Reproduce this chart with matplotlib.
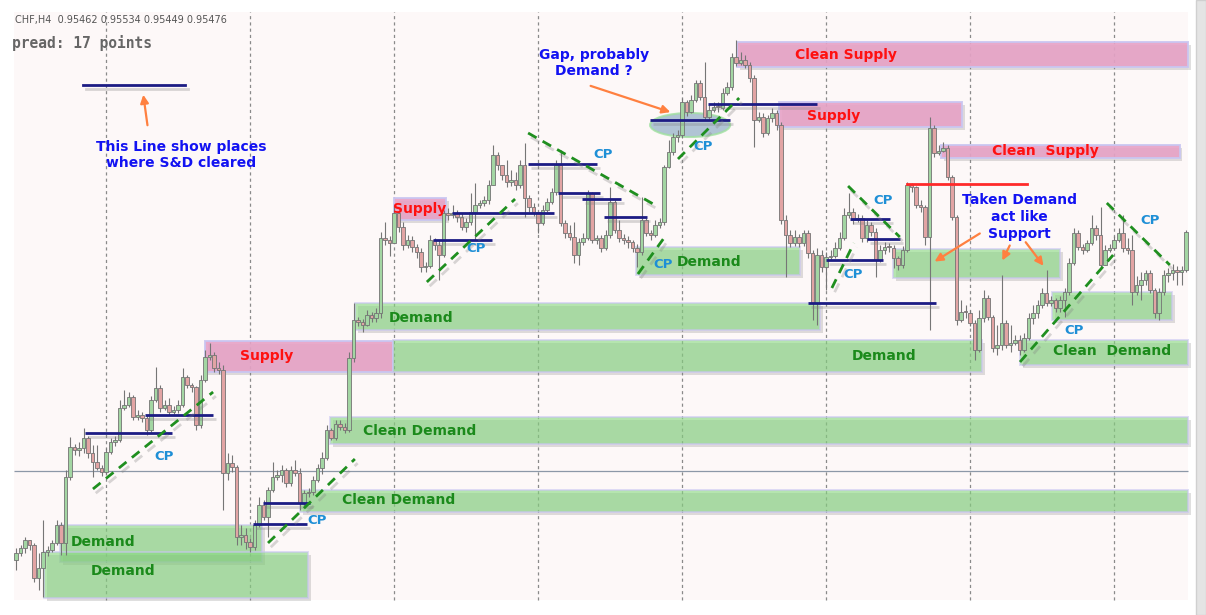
import matplotlib
matplotlib.use("Agg")
import matplotlib.pyplot as plt
import matplotlib.patheffects as pe
from matplotlib.patches import Rectangle, Ellipse
import numpy as np

# H4 candles, price in chart points (no axis labels visible on the screenshot)
first_open = 40
close = [47, 52, 60, 55, 22, 32, 48, 50, 57, 75, 57, 123, 153, 150, 152, 162, 147, 138, 132, 128,
         148, 158, 160, 192, 195, 203, 183, 185, 182, 170, 200, 212, 192, 195, 188, 190, 195, 223, 215, 213,
         175, 220, 243, 245, 232, 230, 127, 137, 133, 63, 65, 58, 53, 75, 95, 83, 110, 123, 125, 130,
         117, 130, 127, 97, 107, 108, 120, 132, 142, 170, 162, 176, 173, 170, 242, 280, 278, 275, 285, 282,
         287, 362, 360, 357, 387, 373, 355, 360, 353, 348, 333, 334, 360, 355, 345, 387, 385, 387, 383, 373,
         378, 388, 395, 397, 400, 415, 445, 435, 425, 418, 420, 415, 435, 402, 393, 388, 377, 390, 398, 408,
         435, 377, 367, 363, 345, 358, 362, 407, 360, 362, 352, 365, 398, 370, 362, 360, 358, 352, 348, 380,
         367, 365, 375, 378, 433, 448, 463, 465, 498, 488, 500, 517, 503, 483, 490, 493, 492, 507, 513, 543,
         537, 540, 535, 522, 480, 483, 467, 482, 487, 475, 380, 365, 357, 363, 357, 367, 347, 297, 345, 333,
         343, 344, 352, 362, 385, 388, 380, 382, 362, 375, 368, 340, 350, 353, 352, 342, 335, 350, 415, 413,
         395, 393, 363, 472, 447, 449, 452, 423, 383, 280, 288, 287, 277, 250, 282, 302, 283, 252, 255, 277,
         255, 257, 260, 250, 262, 282, 287, 295, 307, 297, 300, 292, 300, 308, 337, 367, 353, 350, 357, 372,
         365, 335, 350, 352, 360, 367, 352, 350, 308, 315, 320, 327, 310, 287, 308, 325, 327, 330, 328, 330,
         368]
high = [52, 55, 63, 60, 57, 47, 80, 54, 60, 80, 78, 130, 163, 156, 158, 172, 164, 155, 155, 135,
        152, 162, 164, 200, 210, 208, 205, 190, 188, 185, 204, 233, 215, 200, 202, 194, 200, 232, 225, 217,
        214, 225, 250, 257, 248, 238, 235, 147, 145, 135, 75, 72, 62, 80, 103, 100, 113, 138, 130, 135,
        132, 134, 140, 132, 110, 112, 124, 136, 148, 175, 172, 180, 180, 177, 248, 297, 283, 281, 290, 288,
        292, 368, 378, 364, 395, 388, 378, 365, 364, 356, 352, 338, 365, 362, 360, 390, 392, 395, 390, 387,
        382, 407, 417, 400, 404, 420, 455, 448, 432, 440, 430, 428, 440, 457, 405, 397, 388, 395, 402, 412,
        440, 450, 380, 375, 378, 362, 367, 410, 408, 365, 365, 370, 413, 400, 380, 366, 364, 360, 356, 403,
        382, 370, 380, 382, 435, 460, 467, 470, 502, 500, 505, 520, 520, 538, 495, 498, 498, 512, 518, 547,
        560, 548, 545, 538, 525, 488, 487, 485, 492, 490, 478, 385, 370, 370, 366, 370, 370, 350, 352, 350,
        348, 350, 358, 368, 392, 407, 392, 386, 385, 380, 378, 372, 355, 358, 357, 355, 344, 354, 418, 417,
        414, 400, 395, 483, 475, 455, 458, 455, 425, 385, 300, 295, 290, 280, 290, 310, 305, 285, 275, 325,
        280, 275, 265, 265, 267, 287, 295, 300, 312, 330, 304, 302, 304, 312, 342, 372, 370, 356, 360, 385,
        375, 393, 355, 356, 364, 372, 385, 362, 365, 324, 328, 330, 330, 312, 312, 330, 332, 336, 334, 334,
        370]
low = [30, 44, 47, 50, 18, 10, 3, 44, 48, 55, 45, 45, 120, 145, 144, 147, 142, 123, 130, 124,
       126, 146, 154, 158, 190, 193, 180, 180, 178, 165, 168, 198, 188, 190, 185, 186, 187, 193, 212, 208,
       170, 172, 218, 240, 228, 226, 90, 120, 128, 55, 55, 51, 48, 50, 73, 80, 63, 108, 120, 118,
       113, 114, 124, 90, 94, 103, 105, 118, 126, 140, 160, 160, 170, 167, 168, 238, 274, 268, 274, 278,
       278, 282, 355, 344, 360, 368, 350, 352, 348, 342, 328, 328, 332, 350, 320, 343, 380, 382, 378, 370,
       368, 375, 360, 392, 394, 396, 415, 430, 420, 413, 414, 410, 412, 383, 388, 384, 367, 375, 388, 396,
       405, 374, 362, 360, 337, 335, 355, 360, 357, 356, 348, 350, 362, 367, 358, 356, 352, 348, 333, 345,
       364, 360, 363, 372, 375, 432, 445, 458, 462, 484, 487, 498, 500, 480, 480, 488, 488, 490, 505, 510,
       534, 535, 532, 518, 453, 478, 463, 465, 478, 470, 376, 323, 353, 354, 353, 354, 342, 280, 275, 328,
       310, 340, 342, 350, 360, 382, 376, 378, 358, 358, 364, 323, 338, 346, 348, 332, 330, 332, 348, 408,
       392, 388, 355, 270, 443, 445, 448, 420, 380, 275, 278, 282, 274, 240, 248, 278, 280, 248, 245, 250,
       252, 248, 255, 245, 248, 260, 276, 282, 292, 294, 294, 288, 288, 283, 305, 335, 350, 346, 348, 355,
       360, 332, 344, 348, 350, 358, 348, 346, 295, 305, 300, 315, 307, 282, 280, 305, 318, 320, 315, 315,
       328]

# supply / demand zones: first candle, last candle, bottom, top
zone_names = ["Clean Supply", "Supply", "Clean  Supply", "Supply", "Supply",
              "Demand", "Demand", "Clean Demand", "Clean Demand", "Demand", "Demand",
              "Demand", "", "", "Clean  Demand"]
zone_kind = ["s", "s", "s", "s", "s", "d", "d", "d", "d", "d", "d", "d", "d", "d", "d"]
zone_start = [160.2, 169.5, 205.5, 42.0, 84.0, 75.3, 83.8, 69.8, 63.1, 9.8, 6.2, 137.8, 194.9, 230.2, 223.1]
zone_end = [260.4, 210.2, 258.6, 83.8, 95.6, 178.7, 214.7, 260.4, 260.4, 54.7, 64.9, 174.2, 232.0, 256.9, 260.4]
zone_low = [533, 473, 442, 228, 380, 270, 228, 156, 88, 38, 2, 325, 322, 280, 235]
zone_high = [558, 498, 455, 259, 402, 297, 260, 183, 110, 75, 48, 353, 351, 308, 260]

# levels where supply/demand got cleared: first candle, last candle, price
clear_start = [15.3, 28.7, 54.9, 52.7, 92.7, 96.9, 113.8, 120.4, 125.8, 130.7, 140.9, 153.8, 185.3, 189.1, 180.0, 176.0]
clear_end = [34.7, 43.8, 65.3, 64.7, 105.8, 119.6, 129.1, 129.8, 134.4, 140.2, 158.7, 178.0, 194.2, 196.4, 192.7, 204.4]
clear_level = [167, 185, 97, 76, 360, 387, 436, 407, 401, 383, 480, 496, 381, 361, 340, 297]

# trend lines (CP): start candle, start price, end candle, end price
trend_x0 = [17.1, 56.0, 91.3, 113.8, 138.2, 147.1, 181.3, 184.9, 223.1, 242.4]
trend_y0 = [111, 57, 318, 467, 326, 441, 312, 414, 238, 397]
trend_x1 = [43.8, 75.3, 110.9, 142.0, 144.0, 160.7, 186.2, 196.4, 243.8, 256.4]
trend_y1 = [208, 141, 401, 395, 362, 502, 357, 363, 345, 335]

cp_x = [32.9, 66.9, 102.2, 130.4, 143.8, 152.7, 186.0, 192.7, 235.1, 252.0]
cp_y = [143, 79, 351, 445, 336, 454, 325, 399, 269, 379]

separators = [20, 52, 84, 116, 148, 180, 212, 244]

o = np.array([first_open] + close[:-1], dtype=float)
c = np.array(close, dtype=float)
h = np.maximum(np.array(high, dtype=float), np.maximum(o, c))
l = np.minimum(np.array(low, dtype=float), np.minimum(o, c))
x = np.arange(len(c))

fig = plt.figure(figsize=(12.06, 6.15), dpi=100)
fig.patch.set_facecolor("white")
ax = fig.add_axes([0, 0, 1, 1])
ax.set_xlim(-3.556, 264.44)
ax.set_ylim(-15, 600)
ax.axis("off")

# chart background and right-hand panel
ax.add_patch(Rectangle((-0.44, 0), 260.9, 588, facecolor="#fdf8f8", edgecolor="none", zorder=0))
fig.patches.append(Rectangle((1196 / 1206, 0), 10 / 1206, 1, transform=fig.transFigure,
                             facecolor="#e4e4e4", edgecolor="#d0d0d0", zorder=0))

for s in separators:
    ax.vlines(s, 0, 588, colors="#8a8a8a", linestyles=(0, (2.5, 2.5)), linewidth=0.9, zorder=1)
ax.hlines(129, -0.44, 260.4, colors="#8c98a8", linewidth=0.9, zorder=1)

shadow = [pe.SimplePatchShadow(offset=(2, -2), shadow_rgbFace="gray", alpha=0.25), pe.Normal()]
for k in range(len(zone_names)):
    face = "#e6a2c6" if zone_kind[k] == "s" else "#86d97f"
    alpha = 0.9 if zone_kind[k] == "s" else 0.6
    r = Rectangle((zone_start[k], zone_low[k]), zone_end[k] - zone_start[k], zone_high[k] - zone_low[k],
                  facecolor=face, edgecolor="#c9c6f2", linewidth=1.4, alpha=alpha, zorder=2)
    r.set_path_effects(shadow)
    ax.add_patch(r)

# gap highlight
gap = Ellipse((149.8, 475), 17.8, 24, facecolor="#9db8cc", edgecolor="#9fe09f", linewidth=1.5, alpha=0.8, zorder=2)
ax.add_patch(gap)

# candles
bull = c >= o
ax.vlines(x, l, h, colors="#767676", linewidth=0.8, zorder=3)
body = np.where(np.abs(c - o) < 1.2, 1.2, c - o)
ax.bar(x, body, bottom=o, width=0.72, color=np.where(bull, "#a3d6a3", "#e2a4a4"),
       edgecolor="#737373", linewidth=0.6, zorder=4)

line_fx = [pe.SimpleLineShadow(offset=(2, -3), shadow_color="gray", alpha=0.3), pe.Normal()]
for k in range(len(clear_level)):
    ax.plot([clear_start[k], clear_end[k]], [clear_level[k], clear_level[k]], color="#1c1c84",
            linewidth=2, solid_capstyle="butt", zorder=5, path_effects=line_fx)
ax.plot([14.9, 37.6], [515, 515], color="#1c1c84", linewidth=2, zorder=5, path_effects=line_fx)
ax.plot([198, 224.7], [416, 416], color="#ff2a2a", linewidth=2, zorder=5)

for k in range(len(trend_x0)):
    ax.plot([trend_x0[k], trend_x1[k]], [trend_y0[k], trend_y1[k]], color="#1f8f1f", linewidth=2,
            linestyle=(0, (3.5, 2.5)), zorder=5, path_effects=line_fx)

for k in range(len(cp_x)):
    ax.text(cp_x[k], cp_y[k], "CP", color="#1e8fd6", fontsize=9.5, fontweight="bold",
            ha="center", va="center", zorder=7)

label_x = [184.4, 181.6, 228.7, 55.6, 89.8, 90.0, 192.9, 89.6, 85.1, 19.3, 23.8, 154.0, None, None, 243.6]
label_y = [545, 484, 449, 244, 391, 282, 244, 169, 100, 58, 29, 338, None, None, 249]
for k in range(len(zone_names)):
    if not zone_names[k]:
        continue
    col = "#ff1010" if zone_kind[k] == "s" else "#1b8a1b"
    ax.text(label_x[k], label_y[k], zone_names[k], color=col, fontsize=10, fontweight="bold",
            ha="center", va="center", zorder=7)

note = dict(color="#1212f2", fontsize=10, fontweight="bold", ha="center", va="center", zorder=7,
            linespacing=1.25)
ax.text(36.7, 445, "This Line show places\nwhere S&D cleared", **note)
ax.text(128.4, 537, "Gap, probably\nDemand ?", **note)
ax.text(222.9, 383, "Taken Demand\nact like\nSupport", **note)

arrows = [((29.3, 472), (28.2, 508)), ((127.1, 515), (146.0, 487)), ((214.7, 368), (203.6, 337)),
          ((221.1, 357), (218.9, 337)), ((224.0, 360), (228.7, 332))]
for start, end in arrows:
    ax.annotate("", xy=end, xytext=start, zorder=6,
                arrowprops=dict(arrowstyle="-|>", color="#ff8040", lw=1.6, mutation_scale=12))

fig.text(15 / 1206, 1 - 20 / 615, "CHF,H4  0.95462 0.95534 0.95449 0.95476", color="#555555",
         fontsize=7, va="center", ha="left")
fig.text(12 / 1206, 1 - 43 / 615, "pread: 17 points", color="#666666", fontsize=10.5,
         fontweight="bold", family="DejaVu Sans Mono", va="center", ha="left")

fig.savefig("out.png", dpi=100)
